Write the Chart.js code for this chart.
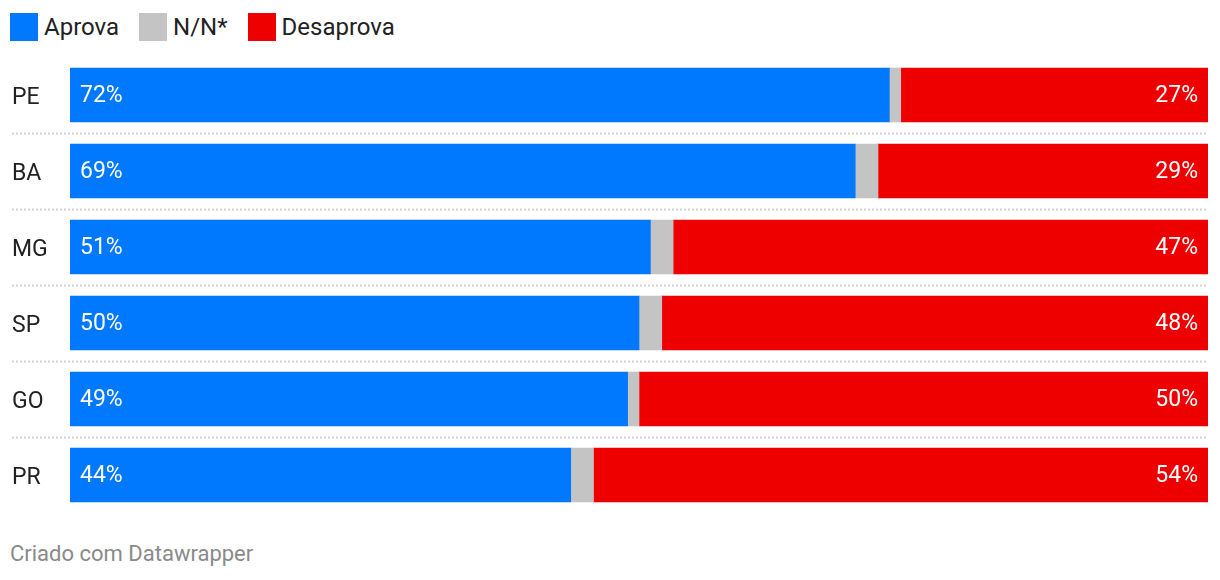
<!DOCTYPE html>
<html>
<head>
<meta charset="utf-8">
<script src="https://cdn.jsdelivr.net/npm/chart.js@4/dist/chart.umd.min.js"></script>
<style>
  body { margin: 0; background: #fff; font-family: Roboto, sans-serif; width: 1220px; height: 580px; position: relative; overflow: hidden; }
  #legend { position: absolute; left: 10px; top: 13px; display: flex; align-items: center; font-size: 24px; color: #222; }
  #legend .item { display: flex; align-items: center; margin-right: 20px; }
  #legend .sw { width: 28px; height: 28px; margin-right: 6px; }
  #wrap { position: absolute; left: 12px; top: 57px; width: 1196px; height: 456px; }
  #footer { position: absolute; left: 10px; top: 541px; font-size: 22px; color: #8a8a8a; }
</style>
</head>
<body>
<div id="legend"></div>
<div id="wrap"><canvas id="myChart"></canvas></div>
<div id="footer">Criado com Datawrapper</div>
<script>
const states = ['PE', 'BA', 'MG', 'SP', 'GO', 'PR'];
const aprova = [72, 69, 51, 50, 49, 44];
const naoSabe = [1, 2, 2, 2, 1, 2];
const desaprova = [27, 29, 47, 48, 50, 54];

const seriesNames = ['Aprova', 'N/N*', 'Desaprova'];
const seriesColors = ['#0079ff', '#c4c4c4', '#ee0000'];

// legend in html
seriesNames.forEach((name, i) => {
  const item = document.createElement('div');
  item.className = 'item';
  item.innerHTML = `<div class="sw" style="background:${seriesColors[i]}"></div><span>${name}</span>`;
  document.getElementById('legend').appendChild(item);
});

// separators, state names and value labels
const rowPlugin = {
  id: 'rows',
  beforeDatasetsDraw(chart) {
    const c = chart.ctx;
    const y = chart.scales.y;
    c.save();
    c.strokeStyle = '#d4d4d4';
    c.lineWidth = 2;
    c.setLineDash([2, 2]);
    for (let i = 0; i < states.length - 1; i++) {
      const py = Math.round((y.getPixelForValue(i) + y.getPixelForValue(i + 1)) / 2) + 0.5;
      c.beginPath();
      c.moveTo(0, py);
      c.lineTo(chart.chartArea.right, py);
      c.stroke();
    }
    c.restore();
  },
  afterDatasetsDraw(chart) {
    const c = chart.ctx;
    const y = chart.scales.y;
    const area = chart.chartArea;
    c.save();
    c.font = '23px Roboto';
    c.textBaseline = 'middle';
    states.forEach((s, i) => {
      const py = y.getPixelForValue(i);
      c.fillStyle = '#222';
      c.textAlign = 'left';
      c.fillText(s, 0, py + 3);
      c.fillStyle = '#fff';
      c.fillText(aprova[i] + '%', area.left + 10, py + 1.5);
      c.textAlign = 'right';
      c.fillText(desaprova[i] + '%', area.right - 10, py + 1.5);
    });
    c.restore();
  }
};

const ctx = document.getElementById('myChart').getContext('2d');
const chart = new Chart(ctx, {
  type: 'bar',
  data: {
    labels: states,
    datasets: [
      { label: seriesNames[0], data: aprova, backgroundColor: seriesColors[0] },
      { label: seriesNames[1], data: naoSabe, backgroundColor: seriesColors[1] },
      { label: seriesNames[2], data: desaprova, backgroundColor: seriesColors[2] }
    ]
  },
  options: {
    indexAxis: 'y',
    responsive: true,
    maintainAspectRatio: false,
    animation: false,
    layout: { padding: 0 },
    datasets: { bar: { barThickness: 54, borderWidth: 0 } },
    plugins: { legend: { display: false }, tooltip: { enabled: false } },
    scales: {
      x: { stacked: true, min: 0, max: 100, display: false },
      y: {
        stacked: true,
        grid: { display: false },
        border: { display: false },
        ticks: { display: false },
        afterFit(scale) { scale.width = 58; }
      }
    }
  },
  plugins: [rowPlugin]
});
</script>
</body>
</html>
